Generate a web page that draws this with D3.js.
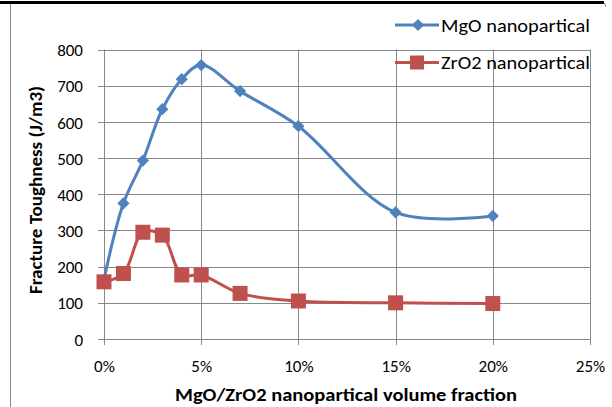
<!DOCTYPE html>
<html><head><meta charset="utf-8">
<script src="https://cdn.jsdelivr.net/npm/d3@7"></script>
<style>body{margin:0;background:#fff}svg{display:block}</style>
</head><body>
<svg id="c" width="612" height="407"></svg>
<script>
const fractions = [0, 0.01, 0.02, 0.03, 0.04, 0.05, 0.07, 0.10, 0.15, 0.20];
const mgoValues = [165, 375, 493, 635, 718, 757, 685, 588, 350, 340];
const zro2Values = [158, 181, 295, 287, 177, 177, 126, 105, 100, 98];
const xTicks = [0, 0.05, 0.10, 0.15, 0.20, 0.25];
const yTicks = [0, 100, 200, 300, 400, 500, 600, 700, 800];
const seriesNames = ["MgO nanopartical", "ZrO2 nanopartical"];
const colors = ["#4F81BD", "#C0504D"];

const svg = d3.select("#c");
const font = "Carlito, Calibri, Lato, 'Open Sans', sans-serif";
const x = d3.scaleLinear().domain([0, 0.25]).range([104, 590]);
const y = d3.scaleLinear().domain([0, 800]).range([339, 49.5]);

// frame
svg.append("path").attr("d", "M10.5,407 L10.5,3 L602,3 Q606,3 606,7")
  .attr("fill", "none").attr("stroke", "#888").attr("stroke-width", 1);
svg.append("line").attr("x1", 0).attr("x2", 604).attr("y1", 2.5).attr("y2", 2.5)
  .attr("stroke", "#000").attr("stroke-width", 3);

// grid
const g = svg.append("g");
g.selectAll(".hg").data(yTicks).join("line")
  .attr("x1", x(0) - 6).attr("x2", x(0.25)).attr("y1", d => Math.round(y(d)) + 0.5).attr("y2", d => Math.round(y(d)) + 0.5)
  .attr("stroke", "#888").attr("stroke-width", 1);
g.selectAll(".vg").data(xTicks).join("line")
  .attr("x1", d => Math.round(x(d)) + 0.5).attr("x2", d => Math.round(x(d)) + 0.5)
  .attr("y1", y(800)).attr("y2", y(0) + 6)
  .attr("stroke", "#888").attr("stroke-width", 1);

// axes labels
const yAxis = d3.axisLeft(y).tickValues(yTicks).tickSize(0).tickPadding(21);
const ya = svg.append("g").attr("transform", `translate(${x(0)},0)`).call(yAxis);
ya.select(".domain").remove();
ya.selectAll("text").attr("font-family", font).attr("font-size", 17).attr("fill", "#000").attr("dy", "0.36em");

const xAxis = d3.axisBottom(x).tickValues(xTicks).tickSize(0).tickFormat(d3.format(".0%"));
const xa = svg.append("g").attr("transform", `translate(0,${y(0)})`).call(xAxis);
xa.select(".domain").remove();
xa.selectAll("text").attr("font-family", font).attr("font-size", 17).attr("fill", "#000").attr("y", 33).attr("dy", 0);

svg.append("text").attr("x", 346).attr("y", 401).attr("text-anchor", "middle")
  .attr("font-family", font).attr("font-weight", "bold").attr("font-size", 18)
  .attr("textLength", 342).attr("lengthAdjust", "spacingAndGlyphs")
  .text("MgO/ZrO2 nanopartical volume fraction");
svg.append("text").attr("transform", "translate(42,190) rotate(-90)").attr("text-anchor", "middle")
  .attr("font-family", font).attr("font-weight", "bold").attr("font-size", 18.5)
  .attr("textLength", 208).attr("lengthAdjust", "spacingAndGlyphs")
  .text("Fracture Toughness (J/m3)");

const line = d3.line().x(d => x(d[0])).y(d => y(d[1])).curve(d3.curveCatmullRom.alpha(0.5));
const mgo = fractions.map((f, i) => [f, mgoValues[i]]);
const zro = fractions.map((f, i) => [f, zro2Values[i]]);

svg.append("path").datum(mgo).attr("d", line).attr("fill", "none").attr("stroke", colors[0]).attr("stroke-width", 3);
svg.append("path").datum(zro).attr("d", line).attr("fill", "none").attr("stroke", colors[1]).attr("stroke-width", 3);

const diamond = d3.symbol().type(d3.symbolDiamond2).size(95);
svg.selectAll(".dm").data(mgo.slice(1)).join("path")
  .attr("d", diamond).attr("transform", d => `translate(${x(d[0])},${y(d[1])})`).attr("fill", colors[0]);
svg.selectAll(".sq").data(zro).join("rect")
  .attr("x", d => x(d[0]) - 7.5).attr("y", d => y(d[1]) - 7.5).attr("width", 15).attr("height", 15).attr("fill", colors[1]);

// legend
const leg = [{n: seriesNames[0], c: colors[0], yy: 25, t: "d"}, {n: seriesNames[1], c: colors[1], yy: 62.5, t: "s"}];
leg.forEach(l => {
  svg.append("line").attr("x1", 395).attr("x2", 439).attr("y1", l.yy).attr("y2", l.yy).attr("stroke", l.c).attr("stroke-width", 3);
  if (l.t === "d") svg.append("path").attr("d", diamond).attr("transform", `translate(418,${l.yy})`).attr("fill", l.c);
  else svg.append("rect").attr("x", 410).attr("y", l.yy - 7).attr("width", 14).attr("height", 14).attr("fill", l.c);
  svg.append("text").attr("x", 441).attr("y", l.yy + 6.5).attr("font-family", font).attr("font-size", 18)
    .attr("textLength", 149).attr("lengthAdjust", "spacingAndGlyphs").text(l.n);
});
</script>
</body></html>
